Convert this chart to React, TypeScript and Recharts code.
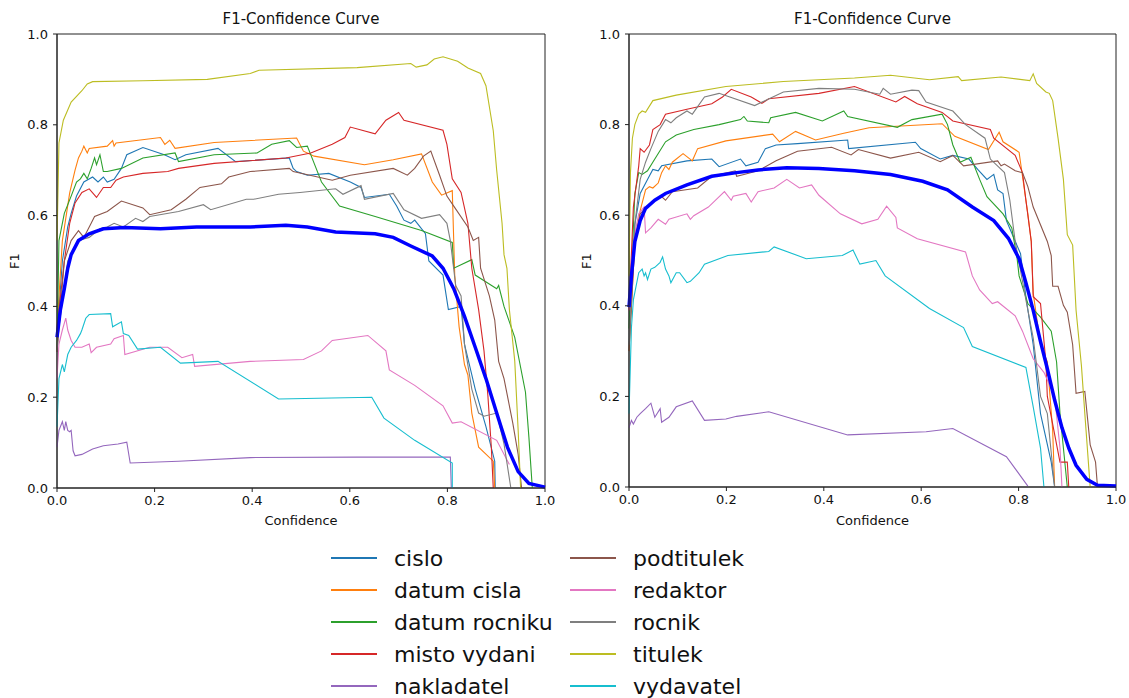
import { LineChart, Line, XAxis, YAxis, ReferenceArea } from 'recharts';

type Pt = [number, number];

const classNames = [
  'cislo', 'datum cisla', 'datum rocniku', 'misto vydani', 'nakladatel',
  'podtitulek', 'redaktor', 'rocnik', 'titulek', 'vydavatel',
];
const classColors = [
  '#1f77b4', '#ff7f0e', '#2ca02c', '#d62728', '#9467bd',
  '#8c564b', '#e377c2', '#7f7f7f', '#bcbd22', '#17becf',
];
const axisTicks = [0, 0.2, 0.4, 0.6, 0.8, 1.0];

// left model
const cisloA: Pt[] = [[0,0.3],[0.004,0.393],[0.011,0.5],[0.022,0.575],[0.029,0.605],[0.04,0.643],[0.055,0.674],[0.073,0.685],[0.084,0.674],[0.095,0.685],[0.103,0.674],[0.117,0.68],[0.132,0.704],[0.143,0.734],[0.176,0.75],[0.22,0.734],[0.242,0.723],[0.264,0.734],[0.33,0.748],[0.366,0.719],[0.476,0.727],[0.484,0.704],[0.491,0.697],[0.513,0.689],[0.557,0.693],[0.601,0.674],[0.623,0.662],[0.63,0.64],[0.681,0.647],[0.696,0.621],[0.711,0.59],[0.725,0.583],[0.733,0.59],[0.755,0.56],[0.762,0.5],[0.791,0.469],[0.802,0.393],[0.828,0.4],[0.835,0.317],[0.857,0.218],[0.879,0.135],[0.897,0.059],[0.898,0]];
const datumCislaA: Pt[] = [[0,0.35],[0.011,0.545],[0.026,0.65],[0.037,0.7],[0.044,0.727],[0.051,0.742],[0.055,0.753],[0.062,0.738],[0.066,0.748],[0.103,0.753],[0.114,0.765],[0.117,0.753],[0.121,0.76],[0.212,0.772],[0.221,0.757],[0.231,0.766],[0.242,0.748],[0.322,0.761],[0.491,0.771],[0.505,0.742],[0.527,0.731],[0.63,0.712],[0.689,0.723],[0.747,0.736],[0.769,0.674],[0.788,0.645],[0.81,0.655],[0.815,0.469],[0.824,0.355],[0.835,0.272],[0.842,0.249],[0.85,0.165],[0.864,0.09],[0.894,0.059],[0.897,0]];
const datumRocnikuA: Pt[] = [[0,0.3],[0.004,0.545],[0.015,0.605],[0.029,0.643],[0.04,0.674],[0.048,0.681],[0.055,0.693],[0.062,0.681],[0.07,0.704],[0.077,0.727],[0.081,0.712],[0.088,0.734],[0.095,0.697],[0.103,0.697],[0.132,0.704],[0.176,0.727],[0.242,0.738],[0.249,0.719],[0.322,0.734],[0.41,0.738],[0.44,0.757],[0.476,0.765],[0.491,0.75],[0.513,0.753],[0.527,0.715],[0.542,0.674],[0.579,0.621],[0.652,0.598],[0.747,0.567],[0.81,0.541],[0.813,0.484],[0.85,0.503],[0.857,0.469],[0.901,0.439],[0.905,0.446],[0.916,0.4],[0.938,0.332],[0.96,0.211],[0.967,0.112],[0.974,0]];
const mistoVydaniA: Pt[] = [[0,0.3],[0.004,0.39],[0.015,0.5],[0.026,0.583],[0.037,0.628],[0.051,0.651],[0.066,0.659],[0.081,0.64],[0.095,0.662],[0.11,0.662],[0.121,0.678],[0.136,0.685],[0.176,0.693],[0.227,0.697],[0.249,0.704],[0.322,0.715],[0.469,0.727],[0.52,0.738],[0.564,0.757],[0.59,0.772],[0.601,0.795],[0.652,0.78],[0.674,0.81],[0.7,0.827],[0.711,0.81],[0.791,0.788],[0.799,0.757],[0.81,0.681],[0.828,0.651],[0.842,0.583],[0.85,0.484],[0.864,0.393],[0.875,0.302],[0.883,0.203],[0.89,0.09],[0.894,0]];
const nakladatelA: Pt[] = [[0,0.09],[0.004,0.127],[0.011,0.146],[0.015,0.127],[0.018,0.146],[0.022,0.127],[0.026,0.124],[0.029,0.127],[0.033,0.082],[0.037,0.071],[0.051,0.074],[0.073,0.086],[0.095,0.093],[0.125,0.097],[0.143,0.101],[0.15,0.055],[0.249,0.059],[0.396,0.067],[0.615,0.068],[0.806,0.068],[0.808,0]];
const podtitulekA: Pt[] = [[0,0.3],[0.004,0.355],[0.015,0.5],[0.029,0.545],[0.044,0.567],[0.055,0.552],[0.07,0.583],[0.077,0.598],[0.103,0.609],[0.132,0.632],[0.176,0.617],[0.19,0.602],[0.234,0.613],[0.264,0.636],[0.293,0.662],[0.337,0.67],[0.352,0.685],[0.396,0.697],[0.476,0.704],[0.484,0.697],[0.564,0.678],[0.601,0.689],[0.689,0.704],[0.718,0.689],[0.733,0.704],[0.751,0.731],[0.766,0.742],[0.784,0.689],[0.799,0.643],[0.813,0.621],[0.842,0.575],[0.853,0.545],[0.864,0.552],[0.868,0.484],[0.886,0.423],[0.897,0.37],[0.905,0.279],[0.916,0.241],[0.934,0.143],[0.945,0.074],[0.952,0]];
const redaktorA: Pt[] = [[0,0.241],[0.004,0.317],[0.011,0.348],[0.018,0.374],[0.022,0.348],[0.029,0.325],[0.037,0.31],[0.051,0.31],[0.066,0.317],[0.07,0.298],[0.081,0.31],[0.11,0.317],[0.117,0.329],[0.136,0.336],[0.139,0.294],[0.19,0.31],[0.227,0.31],[0.256,0.287],[0.278,0.294],[0.282,0.268],[0.396,0.279],[0.505,0.283],[0.542,0.302],[0.564,0.325],[0.637,0.336],[0.674,0.302],[0.681,0.26],[0.733,0.226],[0.791,0.181],[0.81,0.143],[0.828,0.146],[0.901,0.105],[0.927,0.052]];
const rocnikA: Pt[] = [[0,0.3],[0.004,0.355],[0.022,0.5],[0.044,0.545],[0.066,0.552],[0.088,0.571],[0.103,0.575],[0.117,0.583],[0.136,0.575],[0.161,0.594],[0.176,0.587],[0.19,0.598],[0.249,0.609],[0.3,0.624],[0.315,0.613],[0.388,0.636],[0.403,0.636],[0.454,0.647],[0.498,0.651],[0.571,0.659],[0.586,0.647],[0.623,0.666],[0.63,0.636],[0.689,0.649],[0.711,0.613],[0.747,0.594],[0.784,0.602],[0.799,0.583],[0.806,0.545],[0.817,0.446],[0.828,0.423],[0.835,0.317],[0.85,0.218],[0.864,0.165],[0.875,0.158],[0.901,0.165],[0.916,0.097],[0.93,0]];
const titulekA: Pt[] = [[0,0.545],[0.004,0.76],[0.013,0.81],[0.029,0.85],[0.051,0.875],[0.062,0.89],[0.073,0.895],[0.176,0.897],[0.308,0.9],[0.396,0.913],[0.414,0.92],[0.615,0.926],[0.725,0.935],[0.736,0.927],[0.758,0.932],[0.773,0.945],[0.791,0.95],[0.821,0.94],[0.842,0.925],[0.868,0.913],[0.879,0.886],[0.894,0.787],[0.901,0.7],[0.912,0.583],[0.916,0.514],[0.922,0.484],[0.927,0.393],[0.938,0.28],[0.945,0.127],[0.95,0]];
const vydavatelA: Pt[] = [[0,0.135],[0.004,0.241],[0.011,0.272],[0.015,0.256],[0.022,0.294],[0.029,0.31],[0.04,0.325],[0.048,0.34],[0.051,0.348],[0.059,0.374],[0.066,0.382],[0.11,0.384],[0.114,0.355],[0.132,0.366],[0.136,0.34],[0.147,0.336],[0.165,0.306],[0.212,0.31],[0.253,0.275],[0.33,0.279],[0.454,0.196],[0.645,0.2],[0.67,0.154],[0.733,0.105],[0.81,0.055],[0.81,0]];
const allA: Pt[] = [[0,0.332],[0.007,0.393],[0.015,0.439],[0.022,0.484],[0.029,0.514],[0.044,0.545],[0.066,0.56],[0.095,0.571],[0.139,0.574],[0.212,0.571],[0.286,0.575],[0.396,0.575],[0.469,0.579],[0.513,0.575],[0.571,0.564],[0.652,0.56],[0.689,0.552],[0.725,0.533],[0.769,0.511],[0.791,0.484],[0.813,0.439],[0.835,0.378],[0.857,0.31],[0.879,0.241],[0.901,0.165],[0.923,0.09],[0.945,0.036],[0.967,0.01],[1.0,0.002]];

// right model
const cisloB: Pt[] = [[0,0.3],[0.012,0.58],[0.023,0.648],[0.038,0.679],[0.049,0.701],[0.06,0.698],[0.067,0.709],[0.119,0.72],[0.17,0.724],[0.185,0.707],[0.229,0.724],[0.24,0.709],[0.265,0.717],[0.28,0.747],[0.302,0.755],[0.346,0.758],[0.449,0.766],[0.451,0.747],[0.588,0.761],[0.599,0.747],[0.639,0.724],[0.665,0.732],[0.698,0.724],[0.716,0.701],[0.735,0.679],[0.749,0.69],[0.757,0.656],[0.768,0.648],[0.775,0.588],[0.804,0.515],[0.815,0.42],[0.83,0.314],[0.845,0.162],[0.867,0.055],[0.874,0]];
const datumCislaB: Pt[] = [[0,0.3],[0.012,0.542],[0.023,0.61],[0.034,0.656],[0.042,0.663],[0.049,0.66],[0.06,0.671],[0.067,0.694],[0.075,0.709],[0.082,0.701],[0.089,0.717],[0.111,0.736],[0.13,0.72],[0.141,0.747],[0.199,0.764],[0.295,0.779],[0.309,0.762],[0.342,0.785],[0.383,0.766],[0.441,0.781],[0.493,0.793],[0.643,0.802],[0.669,0.774],[0.738,0.745],[0.76,0.783],[0.768,0.762],[0.801,0.739],[0.808,0.686],[0.819,0.603],[0.826,0.542],[0.83,0.428],[0.845,0.314],[0.859,0.276],[0.87,0.124],[0.874,0]];
const datumRocnikuB: Pt[] = [[0,0.35],[0.012,0.648],[0.02,0.694],[0.027,0.69],[0.038,0.698],[0.053,0.724],[0.075,0.762],[0.097,0.777],[0.133,0.789],[0.185,0.8],[0.229,0.811],[0.236,0.818],[0.243,0.808],[0.287,0.804],[0.291,0.815],[0.342,0.827],[0.397,0.808],[0.441,0.83],[0.449,0.818],[0.551,0.794],[0.581,0.811],[0.643,0.823],[0.654,0.8],[0.665,0.755],[0.68,0.717],[0.702,0.728],[0.72,0.679],[0.735,0.641],[0.768,0.603],[0.786,0.572],[0.797,0.504],[0.801,0.466],[0.819,0.405],[0.845,0.375],[0.867,0.344],[0.878,0.276],[0.885,0.162],[0.892,0.086],[0.9,0]];
const mistoVydaniB: Pt[] = [[0,0.39],[0.009,0.618],[0.02,0.709],[0.023,0.747],[0.031,0.739],[0.042,0.755],[0.049,0.789],[0.064,0.8],[0.075,0.823],[0.119,0.834],[0.17,0.846],[0.192,0.861],[0.21,0.878],[0.251,0.861],[0.273,0.847],[0.287,0.857],[0.39,0.869],[0.463,0.884],[0.548,0.85],[0.566,0.862],[0.592,0.846],[0.643,0.827],[0.665,0.808],[0.742,0.789],[0.749,0.77],[0.793,0.732],[0.808,0.694],[0.815,0.633],[0.826,0.542],[0.83,0.42],[0.845,0.405],[0.856,0.276],[0.859,0.2],[0.885,0.055],[0.9,0.055],[0.903,0]];
const nakladatelB: Pt[] = [[0,0.131],[0.005,0.147],[0.009,0.139],[0.016,0.154],[0.023,0.162],[0.034,0.173],[0.045,0.185],[0.053,0.154],[0.064,0.173],[0.067,0.143],[0.082,0.154],[0.097,0.177],[0.13,0.19],[0.155,0.147],[0.199,0.15],[0.221,0.156],[0.287,0.166],[0.449,0.115],[0.61,0.122],[0.665,0.129],[0.775,0.067],[0.819,0.002]];
const podtitulekB: Pt[] = [[0,0.3],[0.012,0.542],[0.023,0.603],[0.042,0.625],[0.067,0.641],[0.075,0.633],[0.089,0.652],[0.141,0.66],[0.17,0.686],[0.218,0.698],[0.221,0.686],[0.236,0.69],[0.265,0.698],[0.302,0.72],[0.346,0.741],[0.416,0.75],[0.456,0.733],[0.471,0.745],[0.537,0.726],[0.595,0.739],[0.639,0.718],[0.665,0.732],[0.687,0.709],[0.757,0.72],[0.764,0.709],[0.771,0.713],[0.793,0.698],[0.808,0.694],[0.819,0.663],[0.83,0.618],[0.859,0.542],[0.867,0.511],[0.87,0.443],[0.881,0.443],[0.892,0.401],[0.9,0.386],[0.911,0.314],[0.918,0.207],[0.936,0.211],[0.947,0.093],[0.958,0.055],[0.962,0]];
const redaktorB: Pt[] = [[0,0.39],[0.009,0.542],[0.02,0.603],[0.031,0.618],[0.034,0.561],[0.045,0.572],[0.06,0.591],[0.075,0.58],[0.082,0.591],[0.119,0.603],[0.126,0.591],[0.133,0.599],[0.163,0.618],[0.196,0.652],[0.21,0.633],[0.214,0.642],[0.24,0.648],[0.251,0.629],[0.265,0.652],[0.298,0.66],[0.324,0.679],[0.35,0.66],[0.375,0.667],[0.39,0.644],[0.434,0.603],[0.478,0.581],[0.511,0.591],[0.529,0.62],[0.548,0.595],[0.551,0.572],[0.592,0.548],[0.691,0.519],[0.705,0.466],[0.72,0.435],[0.746,0.405],[0.757,0.409],[0.793,0.378],[0.808,0.344],[0.83,0.283],[0.852,0.253],[0.874,0.2],[0.885,0.086],[0.889,0]];
const rocnikB: Pt[] = [[0,0.314],[0.012,0.58],[0.023,0.679],[0.034,0.717],[0.045,0.747],[0.06,0.785],[0.075,0.811],[0.086,0.804],[0.097,0.815],[0.119,0.83],[0.13,0.823],[0.155,0.861],[0.185,0.869],[0.258,0.842],[0.317,0.872],[0.39,0.88],[0.463,0.878],[0.515,0.867],[0.522,0.88],[0.537,0.867],[0.581,0.876],[0.595,0.875],[0.61,0.85],[0.665,0.83],[0.691,0.8],[0.731,0.77],[0.742,0.724],[0.771,0.694],[0.782,0.633],[0.793,0.542],[0.815,0.413],[0.83,0.329],[0.845,0.2],[0.859,0.162],[0.874,0]];
const titulekB: Pt[] = [[0,0.466],[0.003,0.694],[0.007,0.77],[0.012,0.8],[0.02,0.823],[0.027,0.83],[0.034,0.827],[0.049,0.853],[0.097,0.865],[0.199,0.884],[0.317,0.895],[0.463,0.903],[0.537,0.909],[0.617,0.899],[0.676,0.906],[0.683,0.897],[0.764,0.905],[0.823,0.897],[0.83,0.912],[0.837,0.891],[0.856,0.872],[0.863,0.869],[0.87,0.853],[0.881,0.77],[0.892,0.679],[0.9,0.557],[0.911,0.534],[0.918,0.39],[0.929,0.268],[0.936,0.162],[0.947,0]];
const vydavatelB: Pt[] = [[0,0.162],[0.005,0.352],[0.009,0.413],[0.02,0.473],[0.027,0.481],[0.031,0.466],[0.034,0.473],[0.038,0.458],[0.045,0.481],[0.053,0.485],[0.064,0.496],[0.069,0.508],[0.075,0.481],[0.082,0.466],[0.086,0.451],[0.097,0.473],[0.104,0.473],[0.119,0.451],[0.126,0.454],[0.144,0.473],[0.155,0.492],[0.203,0.511],[0.287,0.52],[0.298,0.53],[0.364,0.504],[0.438,0.511],[0.46,0.523],[0.474,0.492],[0.507,0.5],[0.526,0.466],[0.617,0.394],[0.687,0.352],[0.705,0.31],[0.815,0.264],[0.83,0.177],[0.845,0.086],[0.852,0]];
const allB: Pt[] = [[0,0.397],[0.005,0.466],[0.012,0.542],[0.023,0.588],[0.034,0.615],[0.053,0.633],[0.075,0.648],[0.119,0.667],[0.17,0.686],[0.221,0.694],[0.265,0.7],[0.324,0.705],[0.39,0.703],[0.463,0.698],[0.537,0.69],[0.603,0.675],[0.654,0.656],[0.705,0.618],[0.749,0.588],[0.779,0.549],[0.801,0.504],[0.815,0.451],[0.83,0.39],[0.845,0.321],[0.859,0.261],[0.874,0.192],[0.889,0.131],[0.903,0.086],[0.918,0.048],[0.94,0.017],[0.962,0.004],[1.0,0.002]];

const seriesA = [cisloA, datumCislaA, datumRocnikuA, mistoVydaniA, nakladatelA, podtitulekA, redaktorA, rocnikA, titulekA, vydavatelA];
const seriesB = [cisloB, datumCislaB, datumRocnikuB, mistoVydaniB, nakladatelB, podtitulekB, redaktorB, rocnikB, titulekB, vydavatelB];

const FONT = '"DejaVu Sans", sans-serif';
const toRows = (pts: Pt[]) => pts.map(([x, y]) => ({ x, y }));
const fmt = (v: number) => v.toFixed(1);

interface CurveProps {
  left: number;
  width: number;
  rightMargin: number;
  xAxisHeight: number;
  series: Pt[][];
  all: Pt[];
}

function CurveChart({ left, width, rightMargin, xAxisHeight, series, all }: CurveProps) {
  const plotW = width - 57 - rightMargin;
  return (
    <div style={{ position: 'absolute', left, top: 0, width, height: 540, fontFamily: FONT }}>
      <div style={{ position: 'absolute', left: 57, top: 9, width: plotW, textAlign: 'center', fontSize: 15, lineHeight: '20px', color: '#111' }}>
        F1-Confidence Curve
      </div>
      <div style={{ position: 'absolute', left: 5, top: 251, width: 20, height: 20, textAlign: 'center', fontSize: 13, lineHeight: '20px', transform: 'rotate(-90deg)', color: '#111' }}>
        F1
      </div>
      <LineChart width={width} height={540} margin={{ top: 34, right: rightMargin, bottom: 0, left: 0 }}>
        <XAxis
          type="number" dataKey="x" domain={[0, 1]} ticks={axisTicks} tickFormatter={fmt}
          height={xAxisHeight} tickSize={4} tickMargin={4}
          axisLine={{ stroke: '#222' }} tickLine={{ stroke: '#222' }}
          tick={{ fontSize: 13, fill: '#111', fontFamily: FONT }}
          label={{ value: 'Confidence', position: 'insideBottom', offset: 15, fontSize: 13, fill: '#111', fontFamily: FONT }}
        />
        <YAxis
          type="number" domain={[0, 1]} ticks={axisTicks} tickFormatter={fmt}
          width={57} tickSize={4} tickMargin={5}
          axisLine={{ stroke: '#222' }} tickLine={{ stroke: '#222' }}
          tick={{ fontSize: 13, fill: '#111', fontFamily: FONT }}
        />
        {series.map((pts, i) => (
          <Line
            key={classNames[i]} data={toRows(pts)} dataKey="y" type="linear"
            stroke={classColors[i]} strokeWidth={1.1} dot={false} activeDot={false}
            isAnimationActive={false}
          />
        ))}
        <Line
          data={toRows(all)} dataKey="y" type="linear" stroke="#0000ff" strokeWidth={3.5}
          dot={false} activeDot={false} isAnimationActive={false}
        />
        <ReferenceArea x1={0} x2={1} y1={0} y2={1} fill="none" stroke="#222" strokeWidth={1} />
      </LineChart>
    </div>
  );
}

function LegendBlock() {
  const rowY = [18, 50, 82, 114, 146];
  return (
    <svg style={{ position: 'absolute', left: 0, top: 540 }} width={1129} height={158}>
      {classNames.map((name, i) => {
        const col = i < 5 ? 0 : 1;
        const y = rowY[i % 5];
        const lx = col === 0 ? 331 : 570;
        const tx = col === 0 ? 394 : 633;
        return (
          <g key={name}>
            <line x1={lx} x2={lx + 46} y1={y} y2={y} stroke={classColors[i]} strokeWidth={2} />
            <text x={tx} y={y} dominantBaseline="central" fontSize={22} fill="#111" fontFamily={FONT}>
              {name}
            </text>
          </g>
        );
      })}
    </svg>
  );
}

export default function App() {
  return (
    <div style={{ position: 'absolute', left: 0, top: 0, width: 1129, height: 698, background: '#fff', overflow: 'hidden' }}>
      <CurveChart left={0} width={560} rightMargin={15} xAxisHeight={52} series={seriesA} all={allA} />
      <CurveChart left={572} width={557} rightMargin={13} xAxisHeight={53} series={seriesB} all={allB} />
      <LegendBlock />
    </div>
  );
}
